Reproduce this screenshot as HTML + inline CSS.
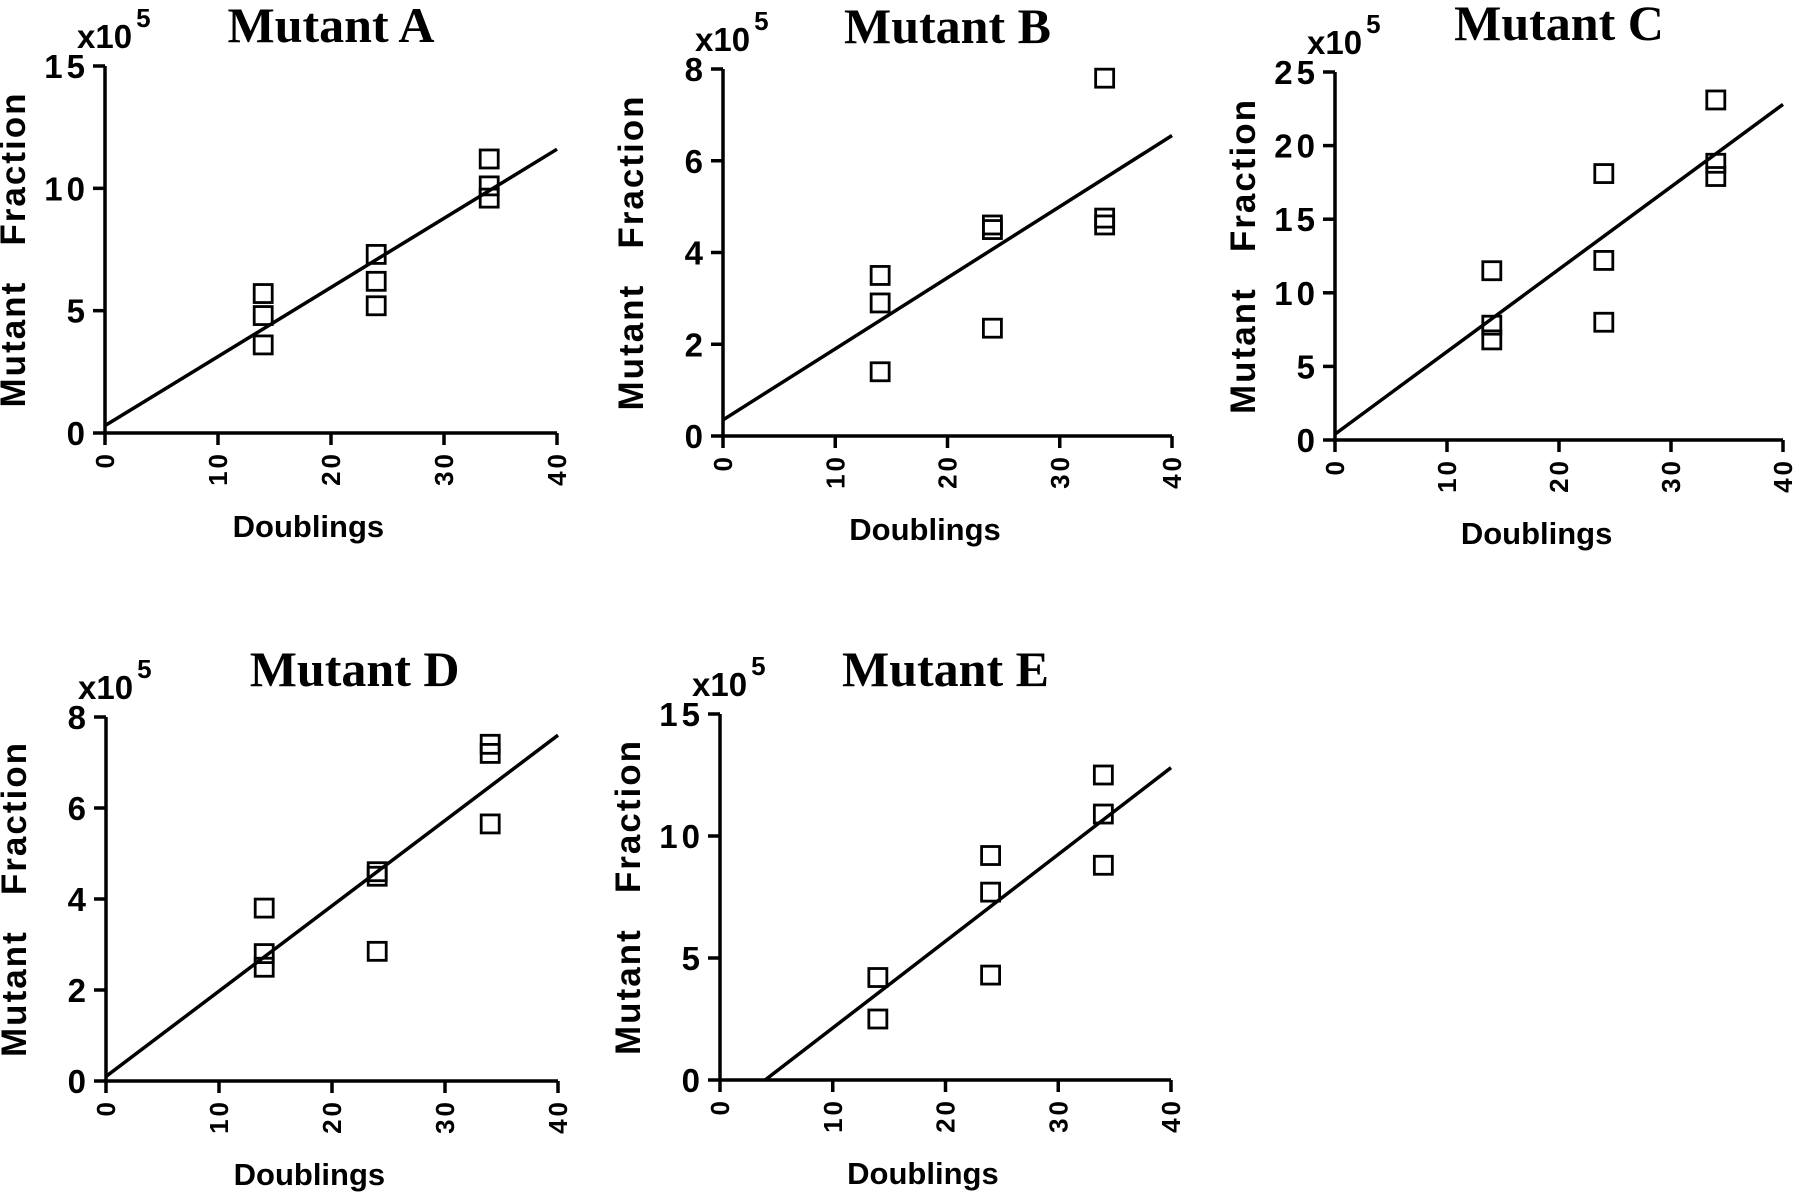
<!DOCTYPE html>
<html><head><meta charset="utf-8"><style>
html,body{margin:0;padding:0;background:#fff;}
svg{display:block;}
.tk{font-family:"Liberation Sans",sans-serif;font-weight:bold;fill:#000;}
.tt{font-family:"Liberation Serif",serif;font-weight:bold;fill:#000;}
</style></head><body>
<svg id="fig" width="1800" height="1200" viewBox="0 0 1800 1200"></svg>
<script>
const xTicks = [0, 10, 20, 30, 40];
const xCats = [14, 24, 34];
const titles = ["Mutant A", "Mutant B", "Mutant C", "Mutant D", "Mutant E"];
const yMaxes = [15, 8, 25, 8, 15];
const yTicksA = [0, 5, 10, 15];
const yTicksB = [0, 2, 4, 6, 8];
const yTicksC = [0, 5, 10, 15, 20, 25];
const yTicksD = [0, 2, 4, 6, 8];
const yTicksE = [0, 5, 10, 15];
const ptsX_A = [14, 14, 14, 24, 24, 24, 34, 34, 34];
const ptsY_A = [5.7, 4.8, 3.6, 7.3, 6.2, 5.2, 11.2, 10.1, 9.6];
const ptsX_B = [14, 14, 14, 24, 24, 24, 34, 34, 34];
const ptsY_B = [3.5, 2.9, 1.4, 4.6, 4.5, 2.35, 7.8, 4.75, 4.6];
const ptsX_C = [14, 14, 14, 24, 24, 24, 34, 34, 34];
const ptsY_C = [11.5, 7.8, 6.8, 18.1, 12.2, 8.0, 23.1, 18.8, 17.9];
const ptsX_D = [14, 14, 14, 24, 24, 24, 34, 34, 34];
const ptsY_D = [3.8, 2.8, 2.5, 4.6, 4.5, 2.85, 7.4, 7.2, 5.65];
const ptsX_E = [14, 14, 24, 24, 24, 34, 34, 34];
const ptsY_E = [4.2, 2.5, 9.2, 7.7, 4.3, 12.5, 10.9, 8.8];
const fitX = [[0, 40], [0, 40], [0, 40], [0, 40], [4, 40]];
const fitY = [[0.3, 11.6], [0.35, 6.55], [0.4, 22.8], [0.1, 7.6], [0, 12.8]];

const layouts = [
  {l:105,b:433,w:452,h:367,tx:0.5,ty:24},
  {l:723,b:436,w:449,h:367,tx:0.5,ty:26},
  {l:1335,b:440,w:448,h:368,tx:0.5,ty:32},
  {l:106,b:1081,w:452,h:364,tx:0.55,ty:31},
  {l:720,b:1080,w:451,h:366,tx:0.5,ty:28}
];
const yTickSets=[yTicksA,yTicksB,yTicksC,yTicksD,yTicksE];
const ptsXs=[ptsX_A,ptsX_B,ptsX_C,ptsX_D,ptsX_E];
const ptsYs=[ptsY_A,ptsY_B,ptsY_C,ptsY_D,ptsY_E];
const NS="http://www.w3.org/2000/svg";
const svg=document.getElementById('fig');
function mk(tag,attrs,parent,text){const e=document.createElementNS(NS,tag);for(const k in attrs)e.setAttribute(k,attrs[k]);if(text!==undefined)e.textContent=text;parent.appendChild(e);return e;}
const letters=['a','b','c','d','e'];
for(let p=0;p<5;p++){
  const L=layouts[p];
  const xs=v=>L.l+v/40*L.w;
  const ys=v=>L.b-v/yMaxes[p]*L.h;
  const g=mk('g',{},svg);
  
  
  const t=mk('text',{x:L.l+L.w*L.tx,y:L.b-L.h-L.ty,'text-anchor':'middle','font-size':50,class:'tt'},g,titles[p]);
  
  
  const sc=mk('text',{x:L.l-28,y:L.b-L.h-18,'font-size':33,class:'tk'},g,'x10');
  
  
  mk('tspan',{dy:-21,dx:4,'font-size':26},sc,'5');
  const ax=mk('path',{d:`M${L.l},${L.b-L.h} L${L.l},${L.b} L${L.l+L.w},${L.b}`,stroke:'#000','stroke-width':3.5,fill:'none'},g);
  
  
  yTickSets[p].forEach(v=>{
    const y=ys(v);
    mk('line',{x1:L.l-12,x2:L.l,y1:y,y2:y,stroke:'#000','stroke-width':3.5},g);
    const tl=mk('text',{x:L.l-16,y:y+12,'text-anchor':'end','font-size':33,'letter-spacing':4,class:'tk'},g,String(v));
    
    
  });
  xTicks.forEach(v=>{
    const x=xs(v);
    mk('line',{x1:x,x2:x,y1:L.b,y2:L.b+12,stroke:'#000','stroke-width':3.5},g);
    const tl=mk('text',{x:0,y:0,'text-anchor':'end','font-size':26,'letter-spacing':3,class:'tk',transform:`translate(${x+9},${L.b+18}) rotate(-90)`},g,String(v));
    
    
  });
  const xt=mk('text',{x:L.l+L.w*0.45,y:L.b+104,'text-anchor':'middle','font-size':31,class:'tk'},g,'Doublings');
  
  
  const yt=mk('text',{x:0,y:0,'text-anchor':'middle','font-size':35,'letter-spacing':2,class:'tk',style:'white-space:pre',transform:`translate(${L.l-80},${L.b-L.h/2}) rotate(-90)`},g,'Mutant   Fraction');
  
  
  const fl=mk('line',{x1:xs(fitX[p][0]),y1:ys(fitY[p][0]),x2:xs(fitX[p][1]),y2:ys(fitY[p][1]),stroke:'#000','stroke-width':3.5},g);
  
  
  ptsXs[p].forEach((xv,i)=>{
    const r=mk('rect',{x:xs(xv)-9,y:ys(ptsYs[p][i])-9,width:18,height:18,fill:'none',stroke:'#000','stroke-width':2.8},g);
    
    
  });
}
</script>
</body></html>
